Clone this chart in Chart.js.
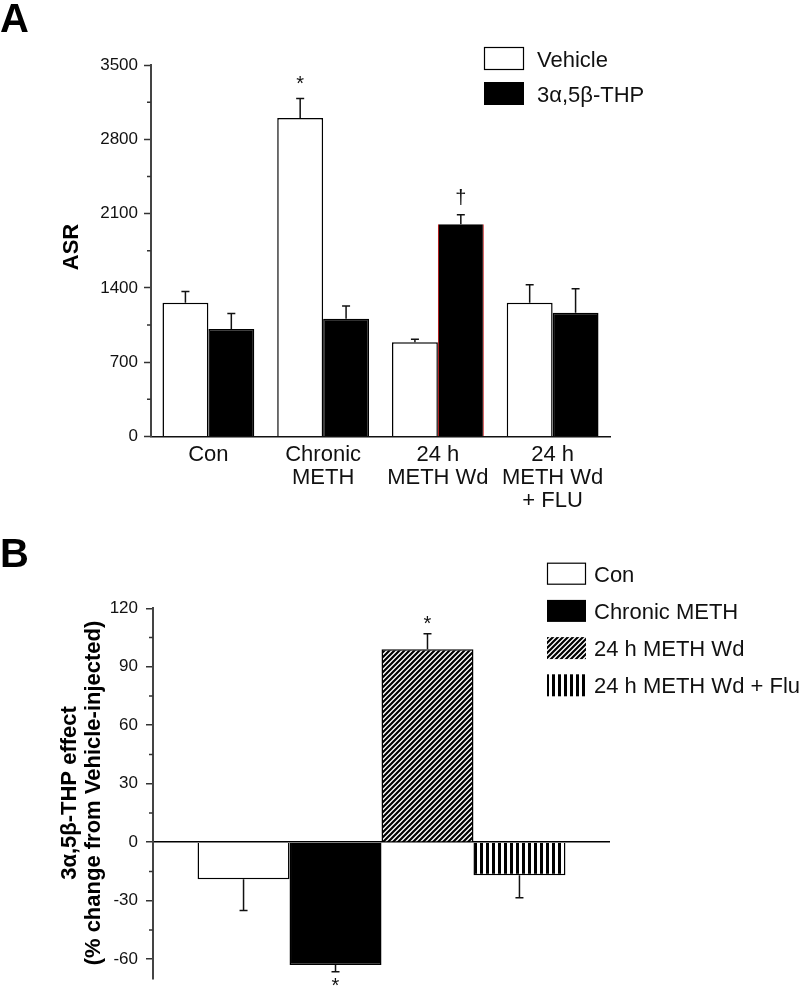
<!DOCTYPE html>
<html>
<head>
<meta charset="utf-8">
<script src="https://cdn.jsdelivr.net/npm/chart.js@4.4.1/dist/chart.umd.min.js"></script>
<style>
  body { margin: 0; background: #fff; }
  #wrap { position: relative; width: 800px; height: 989px; }
  canvas { position: absolute; left: 0; }
</style>
</head>
<body>
<div id="wrap">
  <canvas id="chartA" width="800" height="530" style="top:0"></canvas>
  <canvas id="chartB" width="800" height="459" style="top:530px"></canvas>
</div>
<script>
'use strict';

// panel A - ASR by group
let groupsA = [['Con'], ['Chronic', 'METH'], ['24 h', 'METH Wd'], ['24 h', 'METH Wd', '+ FLU']];
let vehicleMeans = [1260, 3000, 887, 1260];
let vehicleErr = [105, 185, 30, 170];
let vehicleMarks = ['', '*', '', ''];
let thpMeans = [1013, 1110, 1999, 1166];
let thpErr = [145, 120, 90, 226];
let thpMarks = ['', '', '†', ''];
let ticksA = [0, 700, 1400, 2100, 2800, 3500];

// panel B - % change from vehicle
let groupsB = ['Con', 'Chronic METH', '24 h METH Wd', '24 h METH Wd + Flu'];
let effectMeans = [-19, -63, 99, -17];
let effectErr = [16, 3.5, 8, 11.5];
let effectMarks = ['', '*', '*', ''];
let ticksB = [-60, -30, 0, 30, 60, 90, 120];

let fontFam = 'Arial, "Liberation Sans", Helvetica, sans-serif';

// fill patterns for panel B
let ctxB = document.getElementById('chartB').getContext('2d');

function diagonalPattern() {
  let c = document.createElement('canvas');
  c.width = 5;
  c.height = 5;
  let g = c.getContext('2d');
  g.fillStyle = '#fff';
  g.fillRect(0, 0, 5, 5);
  g.strokeStyle = '#000';
  g.lineWidth = 2.2;
  g.beginPath();
  g.moveTo(-1, 6); g.lineTo(6, -1);
  g.moveTo(-1, 1); g.lineTo(1, -1);
  g.moveTo(4, 6); g.lineTo(6, 4);
  g.stroke();
  return ctxB.createPattern(c, 'repeat');
}

function stripePattern() {
  let c = document.createElement('canvas');
  c.width = 6;
  c.height = 4;
  let g = c.getContext('2d');
  g.fillStyle = '#fff';
  g.fillRect(0, 0, 6, 4);
  g.fillStyle = '#000';
  g.fillRect(0, 0, 3, 4);
  return ctxB.createPattern(c, 'repeat');
}

// error bars + significance marks
let errorBars = {
  id: 'errorBars',
  afterDatasetsDraw(chart, args, opts) {
    let ctx = chart.ctx;
    let yScale = chart.scales.y;
    ctx.save();
    ctx.strokeStyle = '#111';
    ctx.lineWidth = 1.5;
    ctx.fillStyle = '#111';
    ctx.textAlign = 'center';
    ctx.textBaseline = 'alphabetic';
    ctx.font = opts.font;
    chart.data.datasets.forEach((ds, i) => {
      let meta = chart.getDatasetMeta(i);
      meta.data.forEach((bar, j) => {
        let v = ds.data[j];
        let dir = v < 0 ? -1 : 1;
        let yEnd = yScale.getPixelForValue(v + dir * ds.errors[j]);
        ctx.beginPath();
        ctx.moveTo(bar.x, bar.y);
        ctx.lineTo(bar.x, yEnd);
        ctx.moveTo(bar.x - opts.cap, yEnd);
        ctx.lineTo(bar.x + opts.cap, yEnd);
        ctx.stroke();
        let mark = ds.marks[j];
        if (mark) {
          let m = ctx.measureText(mark);
          let gap = dir > 0 ? opts.gapUp : opts.gapDown;
          let center = yEnd - dir * gap;
          ctx.fillText(mark, bar.x, center + (m.actualBoundingBoxAscent - m.actualBoundingBoxDescent) / 2);
        }
      });
    });
    ctx.restore();
  }
};

// short ticks halfway between the labelled ones
let minorTicks = {
  id: 'minorTicks',
  afterDraw(chart, args, opts) {
    let ctx = chart.ctx;
    let y = chart.scales.y;
    let left = chart.chartArea.left;
    let list = y.ticks.map(t => t.value);
    ctx.save();
    ctx.strokeStyle = '#333';
    ctx.lineWidth = 1.5;
    ctx.beginPath();
    for (let i = 0; i < list.length - 1; i++) {
      let py = y.getPixelForValue((list[i] + list[i + 1]) / 2);
      ctx.moveTo(left - opts.length, py);
      ctx.lineTo(left, py);
    }
    ctx.stroke();
    ctx.restore();
  }
};

// legend drawn from the datasets
let boxLegend = {
  id: 'boxLegend',
  afterDraw(chart, args, opts) {
    let ctx = chart.ctx;
    ctx.save();
    ctx.font = opts.font;
    ctx.textBaseline = 'middle';
    chart.data.datasets.forEach((ds, i) => {
      let y = opts.y + i * opts.gap;
      ctx.fillStyle = ds.backgroundColor;
      ctx.fillRect(opts.x, y, opts.w, opts.h);
      if (opts.outline[i]) {
        ctx.strokeStyle = '#000';
        ctx.lineWidth = 1.2;
        ctx.strokeRect(opts.x + 0.5, y + 0.5, opts.w - 1, opts.h - 1);
      }
      ctx.fillStyle = '#111';
      ctx.fillText(ds.label, opts.textX, y + opts.h / 2 + 2);
    });
    ctx.restore();
  }
};

// panel letter and axis titles
let sideText = {
  id: 'sideText',
  afterDraw(chart, args, opts) {
    let ctx = chart.ctx;
    ctx.save();
    ctx.fillStyle = '#000';
    opts.items.forEach(item => {
      ctx.save();
      ctx.font = item.font;
      ctx.translate(item.x, item.y);
      if (item.rotate) {
        ctx.rotate(-Math.PI / 2);
        ctx.textAlign = 'center';
      } else {
        ctx.textAlign = 'left';
      }
      ctx.textBaseline = 'alphabetic';
      ctx.fillText(item.text, 0, 0);
      ctx.restore();
    });
    ctx.restore();
  }
};

let tickFont = { family: fontFam, size: 17 };

// ---- panel A ----
new Chart(document.getElementById('chartA'), {
  type: 'bar',
  data: {
    labels: groupsA,
    datasets: [{
      label: 'Vehicle',
      data: vehicleMeans,
      errors: vehicleErr,
      marks: vehicleMarks,
      backgroundColor: '#fff',
      borderColor: '#000',
      borderWidth: 1.5
    }, {
      label: '3α,5β-THP',
      data: thpMeans,
      errors: thpErr,
      marks: thpMarks,
      backgroundColor: '#000',
      borderColor: ['#000', '#000', '#c00000', '#000'],
      borderWidth: (c) => (c.dataIndex === 2 ? { left: 1, right: 1, top: 0, bottom: 0 } : 1.5)
    }]
  },
  plugins: [errorBars, minorTicks, boxLegend, sideText],
  options: {
    responsive: false,
    animation: false,
    datasets: { bar: { categoryPercentage: 0.8, barPercentage: 1 } },
    layout: { padding: { top: 65, right: 190, bottom: 0, left: 0 } },
    scales: {
      x: {
        afterFit: (s) => { s.height = 93.5; },
        grid: { display: false, drawTicks: false },
        border: { display: true, color: '#111', width: 1.5 },
        ticks: { font: { family: fontFam, size: 22, lineHeight: 1.05 }, color: '#111', padding: 7, maxRotation: 0, autoSkip: false }
      },
      y: {
        min: 0,
        max: 3500,
        afterBuildTicks: (s) => { s.ticks = ticksA.map(v => ({ value: v })); },
        afterFit: (s) => { s.width = 151; },
        ticks: { font: tickFont, color: '#111', padding: 6, callback: (v) => String(v) },
        grid: { drawOnChartArea: false, tickLength: 7, tickColor: '#333', tickWidth: 1.5 },
        border: { color: '#444', width: 2 }
      }
    },
    plugins: {
      legend: { display: false },
      tooltip: { enabled: false },
      errorBars: { cap: 4, font: '20px ' + fontFam, gapUp: 18, gapDown: 10 },
      minorTicks: { length: 4 },
      boxLegend: { x: 484, y: 47, w: 40, h: 23, gap: 35, textX: 537, font: '22px ' + fontFam, outline: [true, false] },
      sideText: {
        items: [
          { text: 'A', x: 0, y: 32, font: 'bold 40px ' + fontFam },
          { text: 'ASR', x: 78, y: 247, font: 'bold 22px ' + fontFam, rotate: true }
        ]
      }
    }
  }
});

// ---- panel B ----
let fillsB = ['#fff', '#000', diagonalPattern(), stripePattern()];
let outlineB = [true, false, false, false];

new Chart(ctxB, {
  type: 'bar',
  data: {
    labels: [''],
    datasets: groupsB.map((name, i) => ({
      label: name,
      data: [effectMeans[i]],
      errors: [effectErr[i]],
      marks: [effectMarks[i]],
      backgroundColor: fillsB[i],
      borderColor: '#000',
      borderWidth: 1.5
    }))
  },
  plugins: [errorBars, minorTicks, boxLegend, sideText],
  options: {
    responsive: false,
    animation: false,
    datasets: { bar: { categoryPercentage: 0.805, barPercentage: 1 } },
    layout: { padding: { top: 78.3, right: 190, bottom: 10.4, left: 0 } },
    scales: {
      x: { display: false },
      y: {
        min: -70,
        max: 120,
        afterBuildTicks: (s) => { s.ticks = ticksB.map(v => ({ value: v })); },
        afterFit: (s) => {
          s.width = 153;
          s.paddingTop = 0;
          s.paddingBottom = 0;
        },
        ticks: { font: tickFont, color: '#111', padding: 8 },
        grid: {
          drawOnChartArea: true,
          color: (c) => (c.tick && c.tick.value === 0 ? '#000' : 'rgba(0,0,0,0)'),
          lineWidth: 1.5,
          tickLength: 7,
          tickColor: '#333',
          tickWidth: 1.5
        },
        border: { color: '#444', width: 2 }
      }
    },
    plugins: {
      legend: { display: false },
      tooltip: { enabled: false },
      errorBars: { cap: 4, font: '20px ' + fontFam, gapUp: 14, gapDown: 10 },
      minorTicks: { length: 4 },
      boxLegend: { x: 547, y: 32.7, w: 39, h: 22, gap: 37.2, textX: 594, font: '22px ' + fontFam, outline: outlineB },
      sideText: {
        items: [
          { text: 'B', x: 0, y: 37, font: 'bold 40px ' + fontFam },
          { text: '3α,5β-THP effect', x: 76, y: 263, font: 'bold 22px ' + fontFam, rotate: true },
          { text: '(% change from Vehicle-injected)', x: 100, y: 263, font: 'bold 22px ' + fontFam, rotate: true }
        ]
      }
    }
  }
});
</script>
</body>
</html>
